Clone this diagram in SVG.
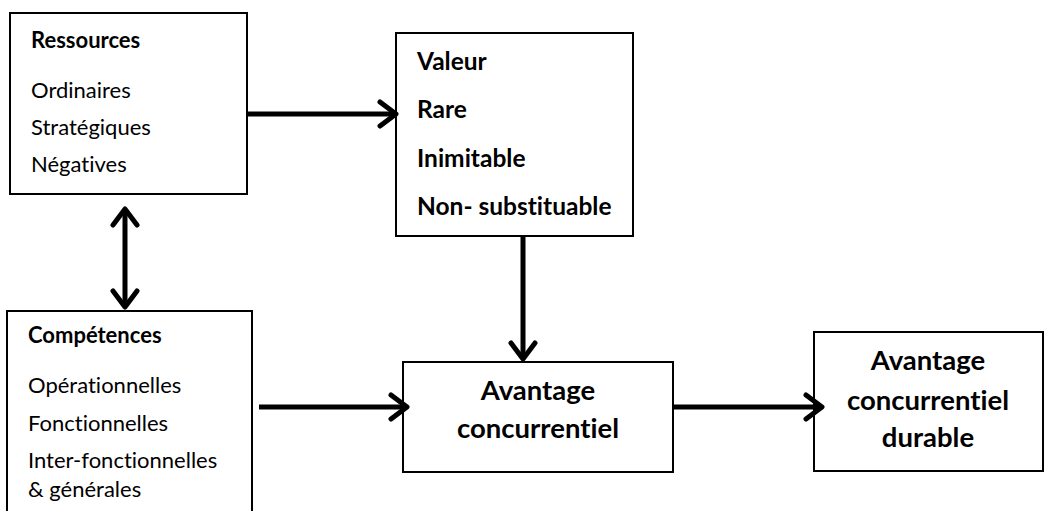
<svg xmlns="http://www.w3.org/2000/svg" width="1053" height="511" viewBox="0 0 1053 511">
<style>
.box{fill:#fff;stroke:#000;stroke-width:2}
.t{font-family:Lato,"Open Sans","Liberation Sans",sans-serif;font-size:22px;fill:#000;font-variant-ligatures:none}
.b{font-weight:bold}
.m{font-size:24.5px}
.c{text-anchor:middle}
.big{font-size:27.5px;font-weight:bold}
.ln{stroke:#000;stroke-width:5;fill:none}
.hd{stroke:#000;stroke-width:5;fill:none;stroke-linecap:round;stroke-linejoin:round}
</style>
<rect width="1053" height="511" fill="#fff"/>
<g id="ressources">
<rect class="box" x="10" y="13" width="237" height="181"/>
<text class="t b" x="31" y="48">Ressources</text>
<text class="t" x="31" y="98">Ordinaires</text>
<text class="t" x="31" y="135">Stratégiques</text>
<text class="t" x="31" y="172">Négatives</text>
</g>
<g id="criteres">
<rect class="box" x="396" y="33" width="237" height="203"/>
<text class="t b m" x="417" y="70">Valeur</text>
<text class="t b m" x="417" y="118">Rare</text>
<text class="t b m" x="417" y="167">Inimitable</text>
<text class="t b m" x="417" y="215">Non- substituable</text>
</g>
<g id="competences">
<rect class="box" x="7" y="311" width="245" height="215"/>
<text class="t b" x="28" y="343">Compétences</text>
<text class="t" x="28" y="393">Opérationnelles</text>
<text class="t" x="28" y="431">Fonctionnelles</text>
<text class="t" x="28" y="468">Inter-fonctionnelles</text>
<text class="t" x="28" y="497">&amp; générales</text>
</g>
<g id="avantage">
<rect class="box" x="403" y="362" width="270" height="110"/>
<text class="t big c" x="538" y="400">Avantage</text>
<text class="t big c" x="538" y="438">concurrentiel</text>
</g>
<g id="durable">
<rect class="box" x="814" y="332" width="229" height="139"/>
<text class="t big c" x="928" y="370">Avantage</text>
<text class="t big c" x="928" y="410">concurrentiel</text>
<text class="t big c" x="928" y="447">durable</text>
</g>
<g id="connectors">
<line class="ln" x1="248" y1="114" x2="396" y2="114"/>
<polyline class="hd" points="380,102 396,114 380,126"/>
<line class="ln" x1="125" y1="212" x2="125" y2="305"/>
<polyline class="hd" points="113,225 125,209 137,225"/>
<polyline class="hd" points="113,291 125,307 137,291"/>
<line class="ln" x1="523" y1="236" x2="523" y2="358"/>
<polyline class="hd" points="511,343 523,359 535,343"/>
<line class="ln" x1="259" y1="407" x2="406" y2="407"/>
<polyline class="hd" points="391,395 407,407 391,419"/>
<line class="ln" x1="673" y1="407" x2="821" y2="407"/>
<polyline class="hd" points="806,395 822,407 806,419"/>
</g>
</svg>
